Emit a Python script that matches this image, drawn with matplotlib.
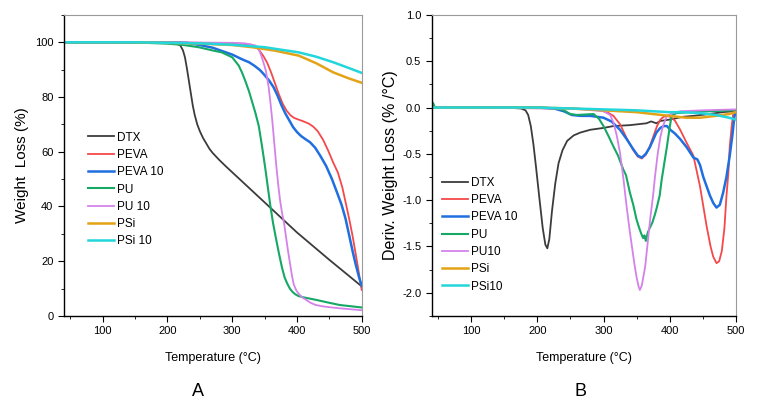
import numpy as np
import matplotlib
matplotlib.use('Agg')
from matplotlib import pyplot as plt
from matplotlib.ticker import MultipleLocator, FormatStrFormatter

plt.rcParams['font.family'] = ['Liberation Sans', 'DejaVu Sans']

labels_a = ['DTX', 'PEVA', 'PEVA 10', 'PU', 'PU 10', 'PSi', 'PSi 10']
labels_b = ['DTX', 'PEVA', 'PEVA 10', 'PU', 'PU10', 'PSi', 'PSi10']
colors = ['#3c3c3c', '#f5484a', '#1f6fe0', '#16a865', '#d482ea', '#e3a317', '#22d6dc']
widths = [1.3, 1.3, 1.8, 1.5, 1.3, 1.8, 1.8]

# ---- panel A: TGA weight loss (%)
dtx_t = [40, 150, 200, 215, 220, 224, 227, 230, 233, 236, 239, 242, 246, 250, 255, 260, 265, 270, 280, 290, 300, 350, 400, 450, 500]
dtx_w = [100, 100, 99.8, 99.4, 98.8, 97, 94.5, 90.5, 86, 81.5, 77, 73.5, 70, 67.5, 65, 63, 61, 59.5, 57, 54.7, 52.5, 41.5, 30.5, 20.5, 10.8]
peva_t = [40, 200, 300, 320, 330, 336, 342, 348, 354, 360, 366, 372, 378, 384, 390, 396, 403, 410, 418, 425, 432, 440, 448, 456, 463, 470, 476, 481, 486, 490, 494, 497, 500]
peva_w = [100, 100, 99.6, 99.4, 99.1, 98.5, 97, 95, 92.5, 89, 85, 81, 77.5, 75, 73.3, 72.3, 71.7, 71.1, 70.3, 69.2, 67.5, 64.5, 60.5, 56, 52.5, 47, 40.5, 35, 29, 23.5, 18, 13.5, 9.5]
peva10_t = [40, 200, 230, 250, 270, 300, 315, 326, 335, 343, 350, 357, 364, 370, 376, 382, 388, 394, 400, 406, 413, 420, 428, 436, 445, 454, 462, 469, 475, 481, 486, 491, 496, 500]
peva10_w = [100, 100, 99.8, 99, 98, 95.5, 93.8, 92.7, 91.3, 89.8, 88, 86, 83.5, 80.5, 77, 74, 71.5, 69, 67.2, 65.8, 64.6, 63.5, 61.5, 58.5, 54.8, 50, 45, 40.5, 35.5, 29, 23.5, 18.5, 14, 11]
pu_t = [40, 150, 200, 225, 248, 270, 284, 300, 305, 310, 315, 320, 326, 331, 336, 341, 346, 351, 355, 359, 363, 367, 372, 377, 381, 385, 389, 393, 397, 402, 410, 429, 450, 466, 500]
pu_w = [100, 99.9, 99.5, 99, 98.2, 97, 96.3, 94.5, 93, 91.5, 89, 86, 82, 78, 74, 69.4, 62, 54, 47, 40, 34, 29, 23, 17.5, 14, 11.8, 10, 8.8, 8, 7.3, 6.8, 5.9, 4.8, 4, 3.1]
pu10_t = [40, 200, 300, 320, 336, 341, 345, 349, 352, 356, 359, 362, 365, 368, 371, 374, 377, 380, 383, 386, 389, 392, 395, 399, 403, 408, 414, 421, 429, 440, 450, 466, 500]
pu10_w = [100, 100, 99.8, 99.6, 98.8, 97.5, 95, 92, 89.5, 84, 78, 71, 63, 55, 48, 42, 37.5, 34, 29, 24, 19.5, 15, 11.5, 9.3, 8, 6.8, 5.9, 4.8, 4, 3.5, 3.2, 2.8, 2.1]
psi_t = [40, 150, 200, 250, 300, 331, 367, 403, 430, 456, 480, 500]
psi_w = [100, 100, 99.8, 99.5, 99, 98.2, 96.9, 95.1, 92.3, 89, 86.8, 85.2]
psi10_t = [40, 150, 200, 250, 300, 350, 403, 430, 456, 480, 500]
psi10_w = [100, 100, 99.8, 99.6, 99.1, 98.2, 96.3, 94.7, 92.7, 90.6, 88.8]

# ---- panel B: DTG derivative weight loss (%/°C)
ddtx_t = [40, 150, 175, 182, 186, 190, 194, 198, 203, 208, 212, 215, 218, 222, 227, 232, 238, 245, 255, 265, 280, 300, 315, 340, 365, 372, 380, 386, 400, 420, 436, 460, 480, 496, 500]
ddtx_v = [0, 0, -0.01, -0.03, -0.08, -0.2, -0.4, -0.65, -0.98, -1.3, -1.48, -1.52, -1.42, -1.12, -0.82, -0.6, -0.46, -0.36, -0.3, -0.27, -0.24, -0.22, -0.2, -0.19, -0.17, -0.15, -0.17, -0.145, -0.13, -0.1, -0.09, -0.07, -0.05, -0.04, -0.04]
dpeva_t = [40, 250, 290, 300, 308, 315, 325, 335, 345, 352, 358, 364, 370, 376, 381, 386, 391, 396, 401, 408, 416, 425, 436, 446, 456, 462, 466, 471, 475, 479, 483, 486, 489, 491, 494, 496, 498, 500]
dpeva_v = [0, -0.01, -0.02, -0.04, -0.06, -0.09, -0.18, -0.33, -0.46, -0.53, -0.55, -0.51, -0.42, -0.3, -0.2, -0.13, -0.1, -0.09, -0.1, -0.14, -0.24, -0.37, -0.52, -0.85, -1.28, -1.5, -1.61, -1.68, -1.66, -1.55, -1.3, -0.96, -0.7, -0.42, -0.2, -0.08, -0.05, -0.04]
dpeva10_t = [40, 200, 225, 240, 252, 265, 280, 300, 312, 325, 335, 345, 352, 358, 364, 370, 375, 380, 386, 391, 396, 401, 408, 416, 426, 436, 442, 446, 451, 456, 461, 466, 471, 476, 481, 486, 491, 495, 498, 500]
dpeva10_v = [0, 0, -0.01, -0.04, -0.08, -0.09, -0.09, -0.11, -0.15, -0.24, -0.34, -0.45, -0.52, -0.54, -0.5, -0.43, -0.35, -0.27, -0.22, -0.2, -0.2, -0.24, -0.28, -0.34, -0.43, -0.54, -0.56, -0.62, -0.75, -0.85, -0.95, -1.03, -1.08, -1.05, -0.92, -0.75, -0.52, -0.3, -0.1, -0.05]
dpu_t = [40, 42, 45, 200, 230, 240, 249, 260, 285, 293, 300, 307, 315, 322, 330, 334, 340, 345, 350, 354, 357, 360, 362, 364, 367, 370, 374, 378, 381, 385, 388, 392, 396, 400, 403, 410, 430, 460, 500]
dpu_v = [0, 0.05, 0, 0, -0.01, -0.03, -0.07, -0.08, -0.07, -0.12, -0.2, -0.3, -0.42, -0.52, -0.67, -0.73, -0.92, -1.05, -1.21, -1.3, -1.36, -1.41, -1.38, -1.44, -1.35, -1.3, -1.24, -1.15, -1.07, -0.95, -0.78, -0.6, -0.42, -0.22, -0.09, -0.06, -0.05, -0.04, -0.03]
dpu10_t = [40, 250, 300, 310, 315, 320, 325, 330, 335, 340, 343, 347, 350, 353, 355, 358, 363, 367, 371, 375, 378, 382, 386, 390, 396, 405, 416, 450, 500]
dpu10_v = [0, -0.01, -0.04, -0.08, -0.16, -0.3, -0.49, -0.76, -1.07, -1.35, -1.5, -1.7, -1.83, -1.93, -1.97, -1.92, -1.72, -1.45, -1.18, -0.95, -0.74, -0.5, -0.32, -0.2, -0.09, -0.06, -0.04, -0.03, -0.02]
dpsi_t = [40, 200, 250, 300, 350, 400, 425, 446, 470, 490, 500]
dpsi_v = [0, 0, -0.01, -0.03, -0.05, -0.09, -0.11, -0.11, -0.09, -0.07, -0.05]
dpsi10_t = [40, 200, 300, 350, 400, 420, 446, 470, 490, 500]
dpsi10_v = [0, 0, -0.02, -0.03, -0.05, -0.05, -0.06, -0.08, -0.11, -0.13]

tga = [(dtx_t, dtx_w), (peva_t, peva_w), (peva10_t, peva10_w), (pu_t, pu_w),
       (pu10_t, pu10_w), (psi_t, psi_w), (psi10_t, psi10_w)]
dtg = [(ddtx_t, ddtx_v), (dpeva_t, dpeva_v), (dpeva10_t, dpeva10_v), (dpu_t, dpu_v),
       (dpu10_t, dpu10_v), (dpsi_t, dpsi_v), (dpsi10_t, dpsi10_v)]

fig = plt.figure(figsize=(7.6, 4.03), dpi=100)
ax1 = fig.add_axes([0.084, 0.216, 0.392, 0.747])
ax2 = fig.add_axes([0.568, 0.216, 0.400, 0.747])


def style(ax):
    for s in ['top', 'right']:
        ax.spines[s].set_color('#9a9a9a')
    for s in ['left', 'bottom']:
        ax.spines[s].set_linewidth(1.0)
    ax.tick_params(which='both', direction='out', top=False, right=False, labelsize=8)
    ax.tick_params(which='major', length=4)
    ax.tick_params(which='minor', length=2.5)
    ax.set_xlim(40, 500)
    ax.xaxis.set_major_locator(MultipleLocator(100))
    ax.xaxis.set_minor_locator(MultipleLocator(50))
    ax.set_xlabel('Temperature (°C)', fontsize=9, labelpad=11)


leg_kw = dict(loc='center left', frameon=False, fontsize=8.5, handlelength=2.2,
              handletextpad=0.25, labelspacing=0.45, borderaxespad=0)

for (t, v), lab, c, lw in zip(tga, labels_a, colors, widths):
    ax1.plot(t, v, color=c, lw=lw, label=lab)
style(ax1)
ax1.set_ylim(0, 110)
ax1.yaxis.set_major_locator(MultipleLocator(20))
ax1.yaxis.set_minor_locator(MultipleLocator(10))
ax1.set_ylabel('Weight  Loss (%)', fontsize=11, labelpad=4)
ax1.legend(bbox_to_anchor=(0.065, 0.42), **leg_kw)

for (t, v), lab, c, lw in zip(dtg, labels_b, colors, widths):
    ax2.plot(t, v, color=c, lw=lw, label=lab)
style(ax2)
ax2.set_ylim(-2.25, 1.0)
ax2.yaxis.set_major_locator(MultipleLocator(0.5))
ax2.yaxis.set_minor_locator(MultipleLocator(0.25))
ax2.yaxis.set_major_formatter(FormatStrFormatter('%.1f'))
ax2.set_ylabel('Deriv. Weight Loss (% /°C)', fontsize=11.5, labelpad=3)
ax2.legend(bbox_to_anchor=(0.02, 0.27), **leg_kw)

fig.text(198 / 760, 1 - 392 / 403, 'A', fontsize=13, ha='center', va='center')
fig.text(580 / 760, 1 - 392 / 403, 'B', fontsize=13, ha='center', va='center')

fig.savefig('out.png', dpi=100, facecolor='white')
